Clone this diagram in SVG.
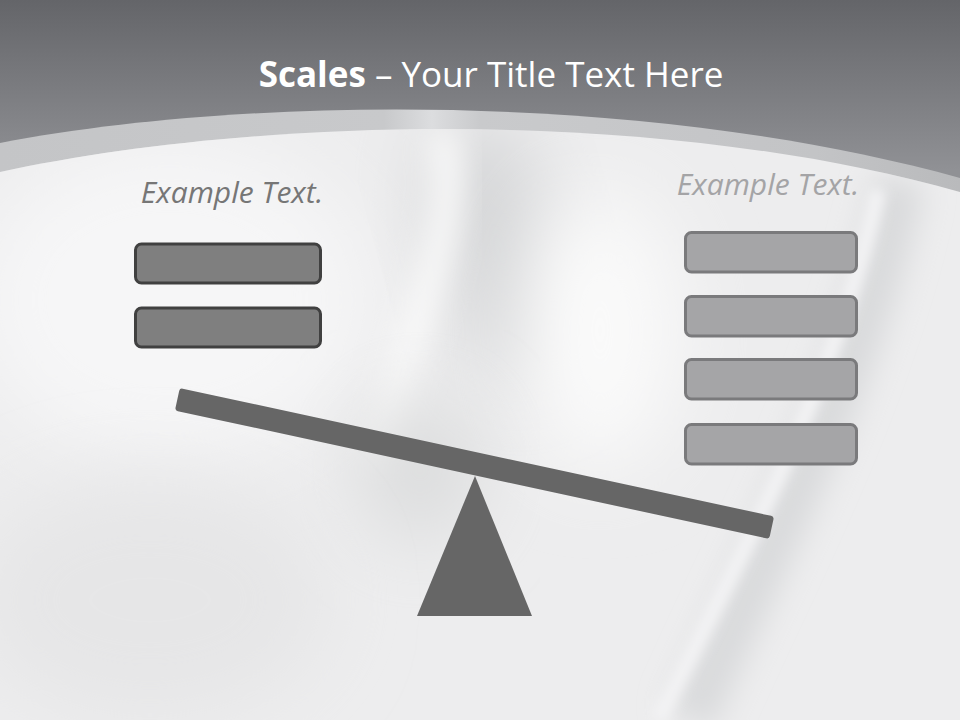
<svg xmlns="http://www.w3.org/2000/svg" width="960" height="720" viewBox="0 0 960 720">
  <defs>
    <linearGradient id="hdr" gradientUnits="userSpaceOnUse" x1="0" y1="0" x2="0" y2="170">
      <stop offset="0" stop-color="#646569"/>
      <stop offset="1" stop-color="#909195"/>
    </linearGradient>
    <linearGradient id="band" x1="0" y1="0" x2="1" y2="0">
      <stop offset="0" stop-color="#c4c5c7"/>
      <stop offset="0.4" stop-color="#c8c9cb"/>
      <stop offset="0.45" stop-color="#dcdddf"/>
      <stop offset="0.5" stop-color="#c9cacc"/>
      <stop offset="0.85" stop-color="#c3c4c6"/>
      <stop offset="1" stop-color="#b9babc"/>
    </linearGradient>
    <filter id="blur40" x="-50%" y="-50%" width="200%" height="200%">
      <feGaussianBlur stdDeviation="40"/>
    </filter>
    <filter id="blur15" x="-50%" y="-50%" width="200%" height="200%">
      <feGaussianBlur stdDeviation="15"/>
    </filter>
    <filter id="blur6" x="-50%" y="-50%" width="200%" height="200%">
      <feGaussianBlur stdDeviation="6"/>
    </filter>
    <clipPath id="bodyClip">
      <path d="M0,172 C250,118 650,105 960,192 L960,720 L0,720 Z"/>
    </clipPath>
  </defs>
  <style>
    .title { font-family: "Open Sans", "Liberation Sans", sans-serif; font-size: 35px; fill: #ffffff; }
    .label { font-family: "Open Sans", "Liberation Sans", sans-serif; font-style: italic; font-size: 30px; }
    .boxL { fill: #7f7f7f; stroke: #404040; stroke-width: 3; }
    .boxR { fill: #a5a5a7; stroke: #7a7a7c; stroke-width: 3; }
    .dark { fill: #666666; }
  </style>

  <!-- background -->
  <rect x="0" y="0" width="960" height="720" fill="url(#hdr)"/>
  <path d="M0,143 C250,95 650,92 960,178 L960,720 L0,720 Z" fill="url(#band)"/>
  <g clip-path="url(#bodyClip)">
    <rect x="0" y="0" width="960" height="720" fill="#ededee"/>
    <ellipse cx="170" cy="300" rx="200" ry="160" fill="#f6f6f7" filter="url(#blur40)"/>
    <ellipse cx="500" cy="250" rx="60" ry="140" fill="#d3d4d6" transform="rotate(-15 500 250)" filter="url(#blur40)"/>
    <ellipse cx="600" cy="330" rx="80" ry="140" fill="#fafafa" filter="url(#blur40)"/>
    <path d="M440,130 C470,230 400,330 380,460" stroke="#f9f9f9" stroke-width="30" fill="none" filter="url(#blur15)"/>
    <ellipse cx="420" cy="470" rx="60" ry="70" fill="#dadbdc" filter="url(#blur40)"/>
    <path d="M900,180 C860,380 760,560 690,720" stroke="#d9dadc" stroke-width="50" fill="none" filter="url(#blur15)"/>
    <path d="M878,190 C838,380 738,560 658,720" stroke="#f3f3f4" stroke-width="16" fill="none" filter="url(#blur6)"/>
    <ellipse cx="150" cy="600" rx="180" ry="120" fill="#e6e6e7" filter="url(#blur40)"/>
  </g>

  <!-- title -->
  <g id="title">
    <text class="title" x="491" y="87" text-anchor="middle"><tspan font-weight="bold">Scales</tspan> – Your Title Text Here</text>
  </g>

  <!-- labels -->
  <g id="label-left">
    <text class="label" x="232" y="203" text-anchor="middle" fill="#767676">Example Text.</text>
  </g>
  <g id="label-right">
    <text class="label" x="768" y="195" text-anchor="middle" fill="#a4a4a6">Example Text.</text>
  </g>

  <!-- left boxes -->
  <g id="left-box-1"><rect class="boxL" x="135.5" y="244" width="185" height="39" rx="6"/></g>
  <g id="left-box-2"><rect class="boxL" x="135.5" y="308" width="185" height="39" rx="6"/></g>

  <!-- right boxes -->
  <g id="right-box-1"><rect class="boxR" x="685.5" y="232.5" width="171" height="39.5" rx="6"/></g>
  <g id="right-box-2"><rect class="boxR" x="685.5" y="296.5" width="171" height="39.5" rx="6"/></g>
  <g id="right-box-3"><rect class="boxR" x="685.5" y="359.5" width="171" height="39.5" rx="6"/></g>
  <g id="right-box-4"><rect class="boxR" x="685.5" y="424.5" width="171" height="39.5" rx="6"/></g>

  <!-- scale -->
  <g id="fulcrum"><polygon class="dark" points="475,476 417,616 532,616"/></g>
  <g id="beam"><rect class="dark" x="-304" y="-11.5" width="608" height="23" rx="3" transform="translate(474.5 463.5) rotate(12.2)"/></g>
</svg>
